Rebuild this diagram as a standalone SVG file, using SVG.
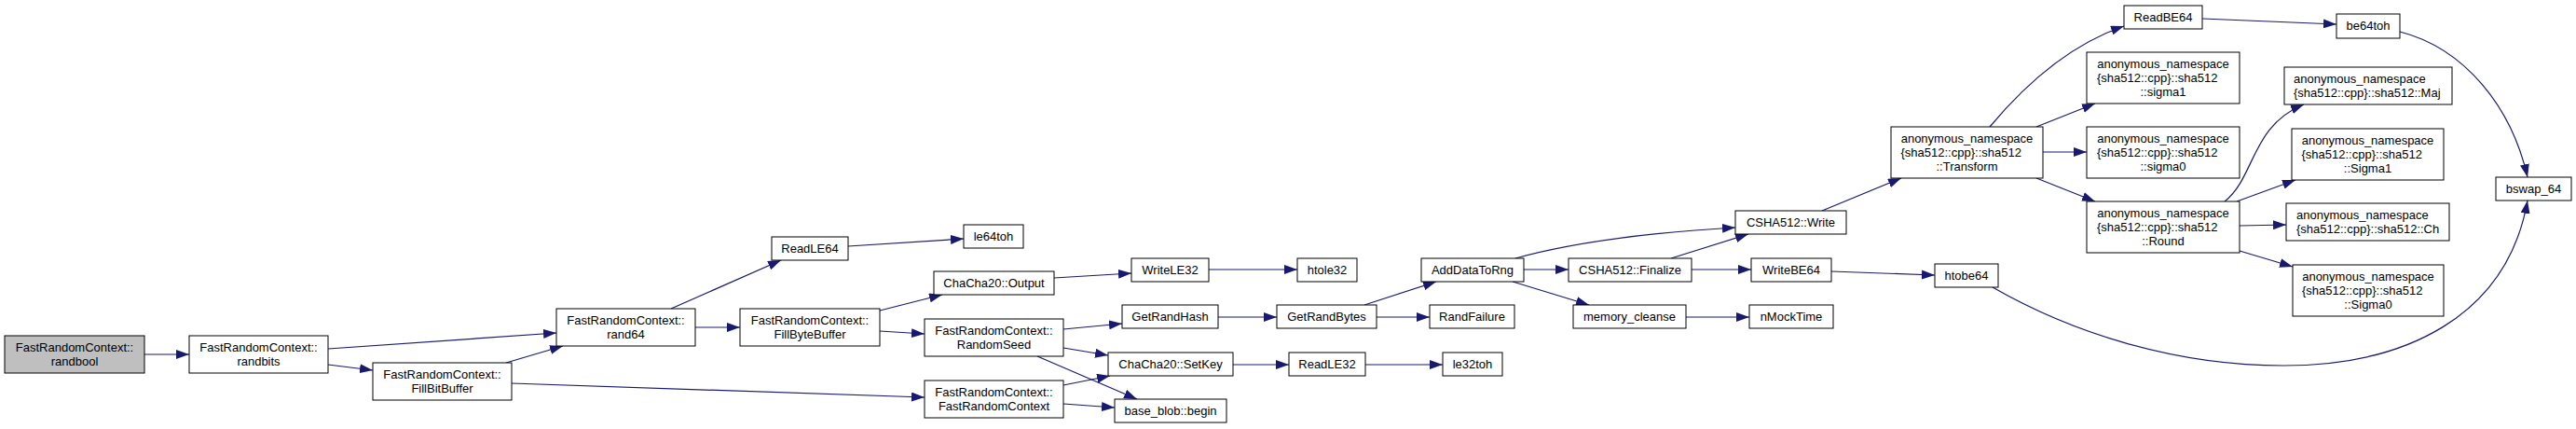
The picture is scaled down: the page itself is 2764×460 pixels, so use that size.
<svg xmlns="http://www.w3.org/2000/svg" width="2764" height="460" viewBox="0 0 2764 460">
<defs>
<marker id="arr" markerUnits="userSpaceOnUse" markerWidth="14" markerHeight="10" refX="14" refY="5" orient="auto">
<path d="M0,0 L14,5 L0,10 z" fill="#191970"/>
</marker>
<style>
.n rect{fill:#fff;stroke:#000;stroke-width:1}
.n.root rect{fill:#bfbfbf}
.n text{font-family:"Liberation Sans",Arial,sans-serif;font-size:13px;fill:#000;text-anchor:middle}
.n text.l{text-anchor:start}
.e path{fill:none;stroke:#191970;stroke-width:1.2;marker-end:url(#arr)}
</style>
</defs>
<rect width="2764" height="460" fill="#fff"/>
<g class="e" id="edges">
<path d="M155,380 L203,380"/>
<path d="M352,374 L597,357"/>
<path d="M352,391 L400,397"/>
<path d="M543,389 L604,371"/>
<path d="M549,411 L992,426"/>
<path d="M720,331 L838,279"/>
<path d="M910,264 L1034,256"/>
<path d="M746,351 L794,351"/>
<path d="M944,333 L1011,316"/>
<path d="M944,355 L992,358"/>
<path d="M1131,298 L1214,293"/>
<path d="M1297,289 L1392,289"/>
<path d="M1141,353 L1204,347"/>
<path d="M1141,373 L1189,381"/>
<path d="M1113,382 L1220,428"/>
<path d="M1141,413 L1191,403"/>
<path d="M1141,433 L1196,437"/>
<path d="M1307,340 L1370,340"/>
<path d="M1323,391 L1383,391"/>
<path d="M1465,391 L1548,391"/>
<path d="M1464,327 L1541,302"/>
<path d="M1477,340 L1534,340"/>
<path d="M1626,277 C1680,262 1760,250 1862,244"/>
<path d="M1635,289 L1683,289"/>
<path d="M1623,302 L1705,327"/>
<path d="M1793,277 L1876,251"/>
<path d="M1815,289 L1879,289"/>
<path d="M1965,291 L2076,295"/>
<path d="M1809,340 L1877,340"/>
<path d="M1955,226 L2040,191"/>
<path d="M2135,136 C2165,100 2215,50 2279,28"/>
<path d="M2185,136 L2248,111"/>
<path d="M2192,163 L2239,163"/>
<path d="M2185,191 L2248,216"/>
<path d="M2363,20 L2507,26"/>
<path d="M2575,34 C2645,52 2695,115 2712,190"/>
<path d="M2138,308 C2220,355 2330,392 2450,392 C2580,392 2690,340 2712,215"/>
<path d="M2387,216 C2420,190 2415,135 2472,112"/>
<path d="M2400,216 L2463,193"/>
<path d="M2403,242 L2453,241"/>
<path d="M2403,269 L2460,286"/>
</g>
<g class="n root" id="n_randbool"><rect x="5" y="360" width="150" height="40"/><text x="80" y="377">FastRandomContext::</text><text x="80" y="392">randbool</text></g>
<g class="n" id="n_randbits"><rect x="203" y="360" width="149" height="40"/><text x="277.5" y="377">FastRandomContext::</text><text x="277.5" y="392">randbits</text></g>
<g class="n" id="n_fillbitbuffer"><rect x="400" y="389" width="149" height="40"/><text x="474.5" y="406">FastRandomContext::</text><text x="474.5" y="421">FillBitBuffer</text></g>
<g class="n" id="n_rand64"><rect x="597" y="331" width="149" height="40"/><text x="671.5" y="348">FastRandomContext::</text><text x="671.5" y="363">rand64</text></g>
<g class="n" id="n_readle64"><rect x="828" y="254" width="82" height="25"/><text x="869" y="271">ReadLE64</text></g>
<g class="n" id="n_le64toh"><rect x="1034" y="241" width="64" height="25"/><text x="1066" y="258">le64toh</text></g>
<g class="n" id="n_fillbytebuffer"><rect x="794" y="331" width="150" height="40"/><text x="869" y="348">FastRandomContext::</text><text x="869" y="363">FillByteBuffer</text></g>
<g class="n" id="n_output"><rect x="1002" y="291" width="129" height="25"/><text x="1066.5" y="308">ChaCha20::Output</text></g>
<g class="n" id="n_randomseed"><rect x="992" y="342" width="149" height="40"/><text x="1066.5" y="359">FastRandomContext::</text><text x="1066.5" y="374">RandomSeed</text></g>
<g class="n" id="n_ctor"><rect x="992" y="408" width="149" height="40"/><text x="1066.5" y="425">FastRandomContext::</text><text x="1066.5" y="440">FastRandomContext</text></g>
<g class="n" id="n_writele32"><rect x="1214" y="277" width="83" height="25"/><text x="1255.5" y="294">WriteLE32</text></g>
<g class="n" id="n_htole32"><rect x="1392" y="277" width="64" height="25"/><text x="1424" y="294">htole32</text></g>
<g class="n" id="n_adddatatorng"><rect x="1525" y="277" width="110" height="25"/><text x="1580" y="294">AddDataToRng</text></g>
<g class="n" id="n_getrandhash"><rect x="1204" y="327" width="103" height="25"/><text x="1255.5" y="344">GetRandHash</text></g>
<g class="n" id="n_getrandbytes"><rect x="1370" y="327" width="107" height="25"/><text x="1423.5" y="344">GetRandBytes</text></g>
<g class="n" id="n_randfailure"><rect x="1534" y="327" width="91" height="25"/><text x="1579.5" y="344">RandFailure</text></g>
<g class="n" id="n_setkey"><rect x="1189" y="378" width="134" height="25"/><text x="1256" y="395">ChaCha20::SetKey</text></g>
<g class="n" id="n_readle32"><rect x="1383" y="378" width="82" height="25"/><text x="1424" y="395">ReadLE32</text></g>
<g class="n" id="n_le32toh"><rect x="1548" y="378" width="64" height="25"/><text x="1580" y="395">le32toh</text></g>
<g class="n" id="n_begin"><rect x="1196" y="428" width="120" height="25"/><text x="1256" y="445">base_blob::begin</text></g>
<g class="n" id="n_write"><rect x="1862" y="226" width="119" height="25"/><text x="1921.5" y="243">CSHA512::Write</text></g>
<g class="n" id="n_finalize"><rect x="1683" y="277" width="132" height="25"/><text x="1749" y="294">CSHA512::Finalize</text></g>
<g class="n" id="n_writebe64"><rect x="1879" y="277" width="86" height="25"/><text x="1922" y="294">WriteBE64</text></g>
<g class="n" id="n_htobe64"><rect x="2076" y="283" width="68" height="25"/><text x="2110" y="300">htobe64</text></g>
<g class="n" id="n_memory_cleanse"><rect x="1688" y="327" width="121" height="25"/><text x="1748.5" y="344">memory_cleanse</text></g>
<g class="n" id="n_nmocktime"><rect x="1877" y="327" width="90" height="25"/><text x="1922" y="344">nMockTime</text></g>
<g class="n" id="n_transform"><rect x="2029" y="136" width="163" height="55"/><text x="2110.5" y="153">anonymous_namespace</text><text class="l" x="2039.5" y="168">{sha512::cpp}::sha512</text><text x="2110.5" y="183">::Transform</text></g>
<g class="n" id="n_readbe64"><rect x="2279" y="6" width="84" height="25"/><text x="2321" y="23">ReadBE64</text></g>
<g class="n" id="n_sigma1"><rect x="2239" y="56" width="164" height="55"/><text x="2321" y="73">anonymous_namespace</text><text class="l" x="2250" y="88">{sha512::cpp}::sha512</text><text x="2321" y="103">::sigma1</text></g>
<g class="n" id="n_sigma0"><rect x="2239" y="136" width="164" height="55"/><text x="2321" y="153">anonymous_namespace</text><text class="l" x="2250" y="168">{sha512::cpp}::sha512</text><text x="2321" y="183">::sigma0</text></g>
<g class="n" id="n_round"><rect x="2239" y="216" width="164" height="55"/><text x="2321" y="233">anonymous_namespace</text><text class="l" x="2250" y="248">{sha512::cpp}::sha512</text><text x="2321" y="263">::Round</text></g>
<g class="n" id="n_be64toh"><rect x="2507" y="15" width="68" height="26"/><text x="2541" y="32">be64toh</text></g>
<g class="n" id="n_maj"><rect x="2451" y="72" width="180" height="40"/><text class="l" x="2461" y="89">anonymous_namespace</text><text class="l" x="2461" y="104">{sha512::cpp}::sha512::Maj</text></g>
<g class="n" id="n_Sigma1"><rect x="2459" y="138" width="163" height="55"/><text x="2540.5" y="155">anonymous_namespace</text><text class="l" x="2469.5" y="170">{sha512::cpp}::sha512</text><text x="2540.5" y="185">::Sigma1</text></g>
<g class="n" id="n_ch"><rect x="2453" y="218" width="175" height="40"/><text class="l" x="2464" y="235">anonymous_namespace</text><text class="l" x="2464" y="250">{sha512::cpp}::sha512::Ch</text></g>
<g class="n" id="n_Sigma0"><rect x="2460" y="284" width="162" height="55"/><text x="2541" y="301">anonymous_namespace</text><text class="l" x="2470" y="316">{sha512::cpp}::sha512</text><text x="2541" y="331">::Sigma0</text></g>
<g class="n" id="n_bswap64"><rect x="2678" y="190" width="81" height="25"/><text x="2718.5" y="207">bswap_64</text></g>
</svg>
